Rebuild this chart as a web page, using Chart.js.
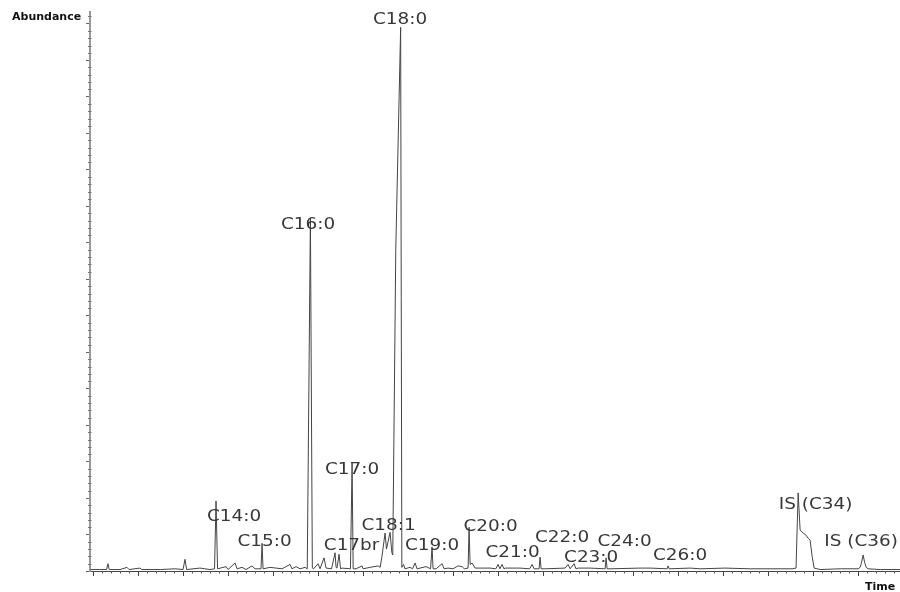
<!DOCTYPE html>
<html><head><meta charset="utf-8">
<script src="https://cdn.jsdelivr.net/npm/chart.js@4"></script>
<style>html,body{margin:0;padding:0;background:#fff}canvas{display:block}</style>
</head><body>
<canvas id="c" width="900" height="592"></canvas>
<script>
// Retention time (min) and abundance (x10^4 counts) of the chromatogram trace
const retentionTimes = [
  3.95,4.15,4.3,4.333,4.36,4.6,4.756,4.8,5.044,5.08,5.5,5.822,6.0,6.044,6.08,6.378,6.6,6.7,6.733,6.767,
  6.956,7.0,7.156,7.2,7.311,7.4,7.533,7.6,7.733,7.756,7.778,7.933,8.067,8.2,8.378,8.42,8.511,8.6,8.711,8.76,
  8.83,8.873,8.9,9.0,9.044,9.133,9.178,9.3,9.378,9.4,9.422,9.467,9.5,9.533,9.72,9.756,9.78,9.844,9.978,10.0,
  10.156,10.333,10.38,10.42,10.489,10.52,10.6,10.64,10.66,10.727,10.835,10.862,10.9,10.93,11.044,11.1,11.156,11.2,11.267,11.4,
  11.5,11.533,11.556,11.622,11.756,11.8,11.889,12.0,12.111,12.2,12.25,12.333,12.356,12.378,12.422,12.489,12.6,12.822,12.95,13.0,
  13.04,13.089,13.13,13.156,13.489,13.7,13.756,13.8,13.911,13.933,13.956,14.044,14.489,14.556,14.6,14.689,14.73,14.778,15.044,15.378,
  15.4,15.422,15.489,16.156,16.378,16.756,16.778,16.8,17.267,17.489,18.044,18.6,19.044,19.533,19.62,19.667,19.711,19.778,19.844,19.889,
  19.933,19.978,20.022,20.156,20.6,21.0,21.044,21.078,21.111,21.144,21.178,21.222,21.489,21.93
];
const abundance = [
  2,2,2,10,2,2,5,2,4,2,2,3,2,16,2,4,2,3,96,3,
  6,2,11,3,5,2,7,3,3,38,3,5,4,3,9,3,6,3,5,3,
  484,4,3,10,3,18,4,3,25,5,4,23,3,4,3,148,3,3,7,3,
  5,7,5,20,52,30,53,25,22,440,745,5,9,3,5,3,11,3,4,6,
  3,33,3,3,10,3,4,3,7,6,3,4,60,9,11,4,4,4,3,9,
  3,9,3,4,4,3,9,3,3,19,3,3,4,9,3,10,3,4,4,3,
  18,3,3,4,4,3,7,3,4,3,4,3,3,3,4,107,56,52,49,45,
  42,20,4,2,3,3,5,12,22,12,5,3,2,2
];
// Peak annotations
const peakNames = ["C14:0","C15:0","C16:0","C17br","C17:0","C18:1","C18:0","C19:0","C20:0","C21:0","C22:0","C23:0","C24:0","C26:0","IS (C34)","IS (C36)"];
const labelTimes = [7.133,7.811,8.778,9.744,9.756,10.567,10.822,11.533,12.833,13.322,14.422,15.067,15.811,17.044,20.056,21.067];
const labelLevels = [74,40,474,34,139,62,755,34,60,25,45,18,40,21,90,40];
// Axis tick positions (no tick labels shown)
const timeTicks = [4,5,6,7,8,9,10,11,12,13,14,15,16,17,18,19,20,21];
const abundanceTicks = [0,50,100,150,200,250,300,350,400,450,500,550,600,650,700,750];

const X_MIN = 3.933, X_MAX = 21.93, Y_MIN = 0, Y_MAX = 766;

const points = retentionTimes.map((t, i) => ({x: t, y: abundance[i]}));

const decorations = {
  id: 'decorations',
  afterDraw(chart) {
    const ctx = chart.ctx, xs = chart.scales.x, ys = chart.scales.y, area = chart.chartArea;
    ctx.save();
    // minor x ticks
    ctx.strokeStyle = '#555'; ctx.lineWidth = 1;
    ctx.beginPath();
    for (let k = 0; k <= 90; k++) {
      const v = 4 + k * 0.2;
      if (v > X_MAX || k % 5 === 0) continue;
      const px = Math.round(xs.getPixelForValue(v)) + 0.5;
      ctx.moveTo(px, area.bottom); ctx.lineTo(px, area.bottom + 2.5);
    }
    ctx.stroke();
    // minor y ticks
    ctx.strokeStyle = '#777';
    ctx.beginPath();
    for (let k = 1; k <= 76; k++) {
      const v = k * 10;
      if (v > Y_MAX || k % 5 === 0) continue;
      const py = Math.round(ys.getPixelForValue(v)) + 0.5;
      ctx.moveTo(area.left - 2, py); ctx.lineTo(area.left + 1.5, py);
    }
    ctx.stroke();
    // peak labels
    ctx.fillStyle = '#383838';
    ctx.font = '16px "DejaVu Sans", Verdana, sans-serif';
    ctx.textAlign = 'center'; ctx.textBaseline = 'middle';
    peakNames.forEach((name, i) => {
      const px = xs.getPixelForValue(labelTimes[i]);
      const py = ys.getPixelForValue(labelLevels[i]);
      ctx.save();
      ctx.translate(px, py);
      ctx.scale(1.15, 1);
      ctx.fillText(name, 0, 0);
      ctx.restore();
    });
    // axis titles
    ctx.fillStyle = '#111';
    ctx.font = 'bold 11px "DejaVu Sans", sans-serif';
    ctx.textAlign = 'left'; ctx.textBaseline = 'alphabetic';
    ctx.fillText('Abundance', 12, 20);
    ctx.fillText('Time', 865, 590);
    ctx.restore();
  }
};

new Chart(document.getElementById('c'), {
  type: 'line',
  data: {
    datasets: [{
      data: points,
      borderColor: '#444',
      borderWidth: 1,
      pointRadius: 0,
      tension: 0,
      fill: false
    }]
  },
  options: {
    responsive: false,
    animation: false,
    events: [],
    layout: {padding: {left: 86, right: 0, top: 12, bottom: 16}},
    plugins: {legend: {display: false}, tooltip: {enabled: false}},
    scales: {
      x: {
        type: 'linear', min: X_MIN, max: X_MAX,
        afterBuildTicks: s => { s.ticks = timeTicks.map(v => ({value: v})); },
        ticks: {display: false},
        grid: {drawOnChartArea: false, drawTicks: true, tickLength: 5, color: '#444'},
        border: {display: true, color: '#444', width: 1}
      },
      y: {
        type: 'linear', min: Y_MIN, max: Y_MAX,
        afterBuildTicks: s => { s.ticks = abundanceTicks.map(v => ({value: v})); },
        ticks: {display: false},
        grid: {drawOnChartArea: false, drawTicks: true, tickLength: 4, color: '#666'},
        border: {display: true, color: '#999', width: 2}
      }
    }
  },
  plugins: [decorations]
});
</script>
</body></html>
